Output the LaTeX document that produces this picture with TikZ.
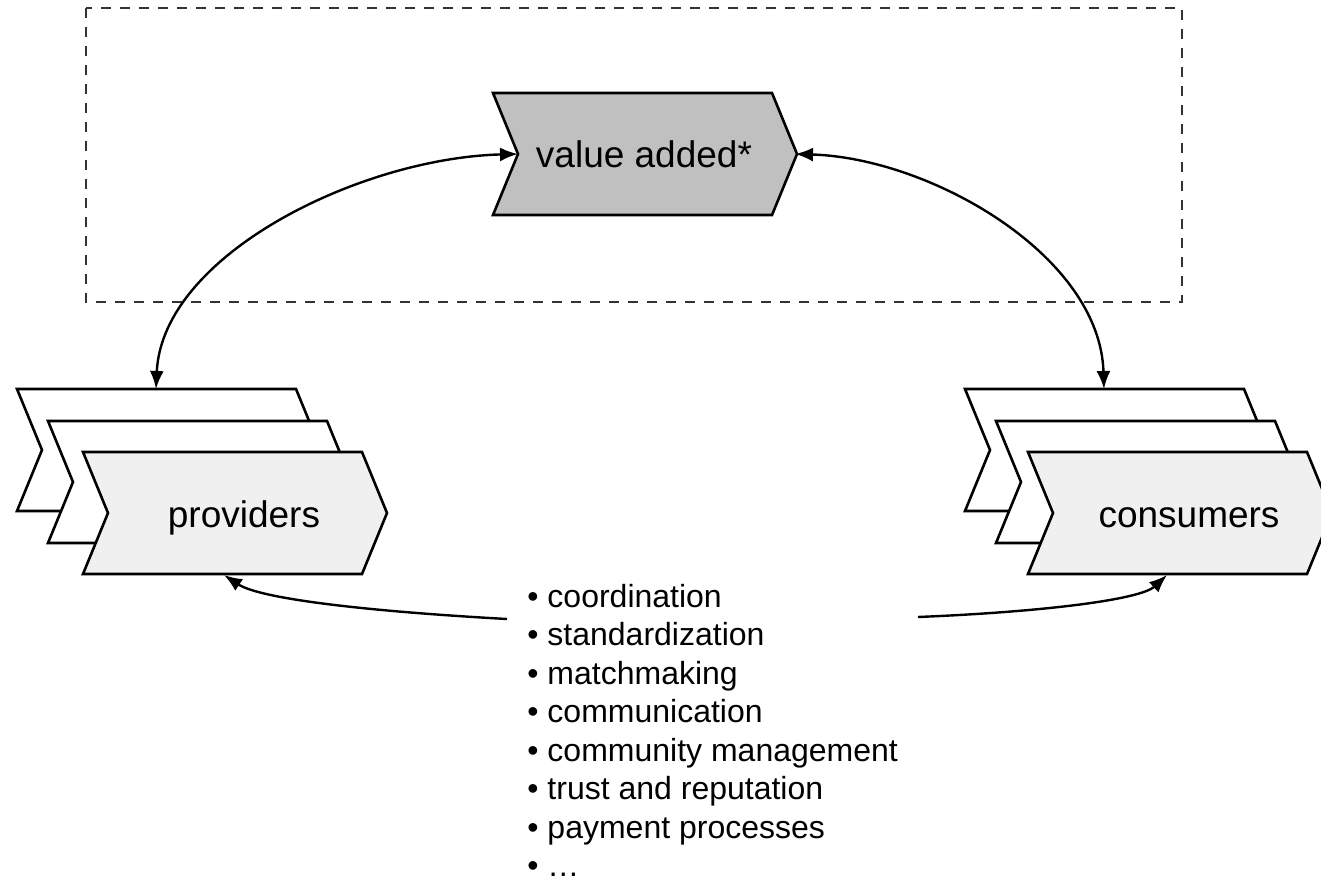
\documentclass[tikz,border=0pt]{standalone}
\usepackage{fontspec}
\setmainfont{Liberation Sans}
\usetikzlibrary{arrows.meta}
\definecolor{frontgray}{HTML}{F0F0F0}
\definecolor{vagray}{HTML}{C0C0C0}
\definecolor{dashgray}{HTML}{333333}
\begin{document}
\begin{tikzpicture}[x=0.5pt,y=-0.5pt,
  pics/chevron/.style={code={\draw[pic actions] (0,0) -- (279,0) -- (304,61) -- (279,122) -- (0,122) -- (25,61) -- cycle;}},
  chevline/.style={draw=black, line width=1.3pt, line join=miter},
  chevtext/.style={font=\fontsize{18.5}{22}\selectfont, anchor=base, inner sep=0pt},
  listtext/.style={font=\fontsize{16}{19}\selectfont, anchor=base west, inner sep=0pt},
  dashbox/.style={draw=dashgray, line width=1.3pt, dash pattern=on 5pt off 4.5pt},
  biarrow/.style={line width=1.2pt, {Latex[length=9pt,width=7pt]}-{Latex[length=9pt,width=7pt]}},
  onearrow/.style={line width=1.2pt, -{Latex[length=9pt,width=7pt]}}]
\useasboundingbox (0,0) rectangle (1321,882);

% dashed platform box
\draw[dashbox] (86,8) rectangle (1182,302);

% value added
\pic[chevline, fill=vagray] at (493,93) {chevron};
\node[chevtext] (va) at (644,168) {value added*};
\coordinate (vaL) at (518,154);
\coordinate (vaR) at (795,154);

% providers stack
\pic[chevline, fill=white] at (17,389) {chevron};
\pic[chevline, fill=white] at (48,421) {chevron};
\pic[chevline, fill=frontgray] at (83,452) {chevron};
\node[chevtext] (prov) at (244,527) {providers};
\coordinate (provTop) at (156,389);
\coordinate (provBot) at (224,575);

% consumers stack
\pic[chevline, fill=white] at (965,389) {chevron};
\pic[chevline, fill=white] at (996,421) {chevron};
\pic[chevline, fill=frontgray] at (1028,452) {chevron};
\node[chevtext] (cons) at (1189,527) {consumers};
\coordinate (consTop) at (1104,389);
\coordinate (consBot) at (1167,575);

% list of services
\foreach \t [count=\i] in {coordination,standardization,matchmaking,communication,community management,trust and reputation,payment processes,…}
  \node[listtext] (item\i) at (527,{607+38.5*(\i-1)}) {• \t};

\coordinate (listL) at (507,619);
\coordinate (listR) at (918,617);

% connectors
\draw[biarrow] (provTop) .. controls (162,255) and (360,158) .. (vaL);
\draw[biarrow] (vaR) .. controls (930,158) and (1100,255) .. (consTop);
\draw[onearrow] (listL) .. controls (380,612) and (262,600) .. (provBot);
\draw[onearrow] (listR) .. controls (1040,612) and (1140,600) .. (consBot);
\end{tikzpicture}
\end{document}
